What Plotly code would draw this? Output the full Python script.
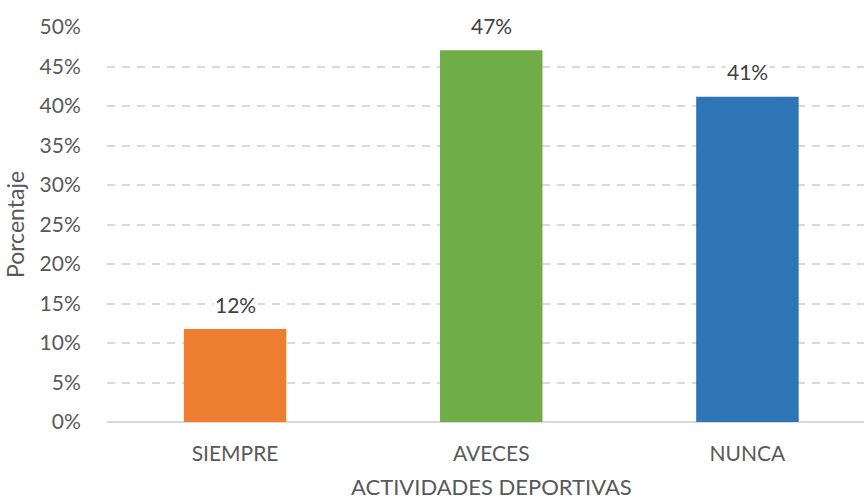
import plotly.graph_objects as go

categories = ["SIEMPRE", "AVECES", "NUNCA"]
values = [11.76, 47.06, 41.18]
colors = ["#ED7D31", "#70AD47", "#2E75B6"]
y_ticks = [0, 5, 10, 15, 20, 25, 30, 35, 40, 45, 50]
y_tick_labels = [f"{t}%" for t in y_ticks]
x_title = "ACTIVIDADES DEPORTIVAS"
y_title = "Porcentaje"

FONT = "Lato, 'Open Sans', sans-serif"

fig = go.Figure()
fig.add_trace(go.Bar(
    x=categories, y=values, marker=dict(color=colors, line=dict(width=0)),
    width=0.4, hoverinfo="skip"
))

for c, v in zip(categories, values):
    fig.add_annotation(
        x=c, y=v, text=f"{round(v)}%", showarrow=False, yshift=25,
        yanchor="middle", bgcolor="white", borderpad=1,
        font=dict(family=FONT, size=21, color="#404040")
    )

# x-axis title near the bottom edge, as in the reference
fig.add_annotation(
    x=1, xref="x", y=0, yref="paper", yshift=-64, yanchor="middle",
    text=x_title, showarrow=False,
    font=dict(family=FONT, size=22, color="#595959")
)

fig.update_layout(
    width=864, height=499,
    margin=dict(l=107, r=0, t=27, b=77),
    paper_bgcolor="white", plot_bgcolor="white",
    showlegend=False,
    font=dict(family=FONT, color="#595959"),
)
fig.update_xaxes(
    range=[-0.5, 2.455], showgrid=False, showline=False, zeroline=False,
    tickfont=dict(family=FONT, size=21, color="#595959"),
    ticks="outside", ticklen=13, tickcolor="rgba(0,0,0,0)",
)
fig.update_yaxes(
    range=[0, 50], tickvals=y_ticks, ticktext=y_tick_labels,
    showgrid=True, gridcolor="#D9D9D9", gridwidth=1.5, griddash="8px,7px",
    zeroline=True, zerolinecolor="#D9D9D9", zerolinewidth=2,
    showline=False,
    tickfont=dict(family=FONT, size=21, color="#595959"),
    ticks="outside", ticklen=21, tickcolor="rgba(0,0,0,0)",
    title=dict(text=y_title, standoff=8,
               font=dict(family=FONT, size=23, color="#595959")),
)

fig.write_html("out.html", config={"displayModeBar": False},
               post_script="document.body.style.margin='0';")
